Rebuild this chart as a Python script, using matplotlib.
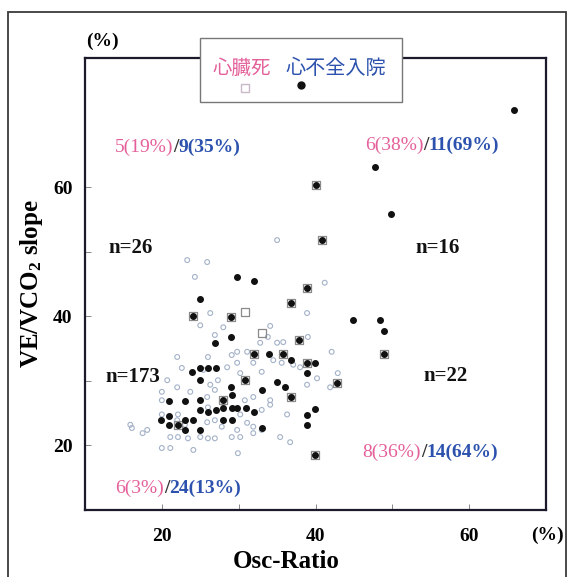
import matplotlib
matplotlib.use("Agg")
import matplotlib.pyplot as plt
from matplotlib.patches import Rectangle
from matplotlib.lines import Line2D

plt.rcParams['font.family'] = ['Liberation Serif', 'DejaVu Serif']
plt.rcParams['mathtext.fontset'] = 'custom'
plt.rcParams['mathtext.rm'] = 'Liberation Serif:bold'
plt.rcParams['mathtext.bf'] = 'Liberation Serif:bold'
plt.rcParams['mathtext.default'] = 'rm'

# ---------------- data ----------------
# heart-failure hospitalisation (filled dots)
hf_x = [65.8, 47.7, 49.8, 40.1, 40.8, 48.4, 48.9, 48.9, 44.9, 42.8, 39.9,
        29.8, 32.0, 38.9, 25.0, 36.8, 24.1, 29.0, 29.0, 26.9, 37.9, 32.0,
        33.9, 35.8, 36.8, 38.9, 39.9, 38.9, 35.0, 36.0, 33.0, 30.8, 29.0,
        36.8, 39.9, 38.9, 38.9, 23.9, 25.0, 26.0, 27.1, 25.0, 20.9, 23.0,
        25.0, 25.0, 26.0, 27.1, 28.0, 28.0, 29.1, 29.1, 29.8, 31.0, 32.0,
        20.9, 20.9, 22.1, 23.0, 24.1, 25.0, 23.0, 29.1, 33.0, 19.9, 28.0]
hf_y = [71.9, 63.1, 55.8, 60.3, 51.8, 39.4, 37.7, 34.2, 39.4, 29.7, 18.5,
        46.1, 45.5, 44.4, 42.7, 42.1, 40.0, 39.9, 36.8, 35.9, 36.3, 34.2,
        34.2, 34.2, 33.2, 32.8, 32.8, 31.2, 29.8, 29.0, 28.6, 30.1, 29.0,
        27.5, 25.6, 24.7, 23.2, 31.4, 32.0, 32.0, 32.0, 30.1, 26.9, 26.9,
        27.0, 25.5, 25.2, 25.5, 27.0, 25.8, 27.8, 25.8, 25.8, 25.8, 25.2,
        24.6, 23.2, 23.2, 23.9, 23.9, 22.4, 22.4, 23.9, 22.7, 23.9, 23.9]

# cardiac death (open squares)
cd_x = [40.1, 40.8, 48.9, 42.8, 39.9, 38.9, 36.8, 24.1, 29.0, 37.9,
        32.0, 35.8, 38.9, 30.8, 36.8, 28.0, 22.1, 30.8, 33.0]
cd_y = [60.3, 51.8, 34.2, 29.7, 18.5, 44.4, 42.1, 40.0, 39.9, 36.3,
        34.2, 34.2, 32.8, 30.1, 27.5, 27.0, 23.2, 40.6, 37.4]

# no event (small open circles)
ot_x = [35.0, 25.9, 23.3, 24.3, 41.2, 26.3, 25.0, 26.9, 28.0, 34.1, 33.8,
        32.8, 35.0, 35.8, 39.0, 42.1, 31.1, 29.8, 26.0, 22.0, 29.8, 31.9,
        33.0, 37.1, 38.0, 42.9, 30.2, 27.3, 26.3, 22.0, 20.0, 20.0, 23.7,
        25.9, 26.9, 30.8, 31.9, 34.1, 34.1, 22.1, 26.0, 30.2, 31.1, 33.0,
        20.0, 36.3, 22.0, 23.0, 25.9, 26.9, 27.8, 31.1, 31.9, 33.0, 29.8,
        16.1, 17.5, 21.1, 22.1, 23.4, 25.0, 26.0, 26.9, 29.1, 30.2, 31.9,
        35.4, 20.0, 21.1, 24.1, 29.9, 36.7, 40.2, 41.9, 38.9, 25.4, 22.6,
        20.7, 38.9, 34.5, 35.6, 29.1, 28.5, 18.1, 15.9]
ot_y = [51.8, 48.4, 48.7, 46.1, 45.2, 40.5, 38.6, 37.1, 38.3, 38.5, 36.8,
        35.9, 35.9, 36.0, 36.8, 34.5, 34.5, 34.5, 33.7, 33.7, 32.8, 32.8,
        31.4, 32.5, 32.1, 31.2, 31.2, 30.1, 29.4, 29.0, 28.3, 27.0, 28.3,
        27.5, 28.6, 27.0, 27.5, 27.0, 26.3, 24.8, 25.9, 24.8, 25.8, 25.5,
        24.8, 24.8, 23.9, 23.2, 23.6, 23.9, 22.9, 23.5, 22.9, 22.4, 22.4,
        22.7, 21.9, 21.3, 21.3, 21.1, 21.3, 21.1, 21.1, 21.3, 21.3, 21.9,
        21.3, 19.6, 19.6, 19.3, 18.8, 20.5, 30.4, 29.0, 29.4, 31.7, 32.0,
        30.1, 40.5, 33.2, 32.8, 34.0, 32.1, 22.4, 23.2]

x_ticks = [20, 40, 60]
y_ticks = [20, 40, 60]

# quadrant annotations: (left x, y, pink part, blue part)
quad_events = [(13.9, 66.2, "5(19%)", "9(35%)"),
               (46.4, 66.4, "6(38%)", "11(69%)"),
               (46.1, 19.0, "8(36%)", "14(64%)"),
               (13.9, 13.4, "6(3%)", "24(13%)")]
quad_n = [(13.0, 50.6, "n=26"), (53.0, 50.6, "n=16"),
          (12.6, 30.6, "n=173"), (54.0, 30.8, "n=22")]

PINK = '#E4609A'
BLUE = '#2C52AE'

# ---------------- figure ----------------
fig = plt.figure(figsize=(5.71, 5.77), dpi=100)
W, H = 571, 577
ax = fig.add_axes([85 / W, 1 - 510 / H, (546 - 85) / W, (510 - 58) / H])
ax.set_xlim(10, 70)
ax.set_ylim(10, 80)

ax.scatter(ot_x, ot_y, s=12, facecolors='none', edgecolors='#a4b2c8',
           linewidths=0.8, zorder=2)
ax.scatter(cd_x, cd_y, s=32, marker='s', facecolors='none',
           edgecolors='#8a8a8a', linewidths=0.9, zorder=3)
ax.scatter(hf_x, hf_y, s=16, color='#111111', zorder=4)

for s in ax.spines.values():
    s.set_linewidth(1.6)
    s.set_color('#1a1a2a')

ax.set_xticks(x_ticks)
ax.set_yticks(y_ticks)
ax.set_xticks([30, 50], minor=True)
ax.set_yticks([30, 50], minor=True)
ax.tick_params(which='both', direction='in', length=4, width=0.7,
               color='#888888')
ax.tick_params(axis='x', pad=13, labelsize=14)
ax.tick_params(axis='y', pad=9, labelsize=14)
for lab in ax.get_xticklabels() + ax.get_yticklabels():
    lab.set_fontweight('bold')

ax.set_ylabel(r"VE/VCO$_{2}$ slope", fontsize=18, fontweight='bold',
              labelpad=6)
fig.text(286 / W, 1 - 562 / H, "Osc-Ratio", fontsize=18, fontweight='bold',
         ha='center', va='center')

fig.text(102 / W, 1 - 41 / H, "(%)", fontsize=14, fontweight='bold',
         ha='center', va='center')
fig.text(547 / W, 1 - 535 / H, "(%)", fontsize=14, fontweight='bold',
         ha='center', va='center')

# quadrant labels
for x, y, p, b in quad_events:
    t1 = ax.text(x, y, p, color=PINK, fontsize=14, va='center')
    t2 = ax.annotate("/", xycoords=t1, xy=(1, 0), va='bottom',
                     color='#333333', fontsize=14, fontweight='bold')
    ax.annotate(b, xycoords=t2, xy=(1, 0), va='bottom', color=BLUE,
                fontsize=14, fontweight='bold')
for x, y, s in quad_n:
    ax.text(x, y, s, fontsize=15, fontweight='bold', va='center',
            color='#111111')

# legend box
lx0, lx1, ly0, ly1 = 200, 402, 38, 102
fig.patches.append(Rectangle((lx0 / W, 1 - ly1 / H), (lx1 - lx0) / W,
                             (ly1 - ly0) / H, transform=fig.transFigure,
                             facecolor='white', edgecolor='#777777',
                             linewidth=1.0, zorder=10))
fig.text(242 / W, 1 - 68 / H, "心臓死", color=PINK, fontsize=14,
         family=['Noto Sans CJK JP'], ha='center', va='center', zorder=11)
fig.text(336 / W, 1 - 68 / H, "心不全入院", color=BLUE, fontsize=14.5,
         family=['Noto Sans CJK JP'], ha='center', va='center', zorder=11)
fig.lines.append(Line2D([245 / W], [1 - 88 / H], marker='s', markersize=6,
                        markerfacecolor='none', markeredgecolor='#c8b8c8',
                        linestyle='none', transform=fig.transFigure,
                        zorder=11))
fig.lines.append(Line2D([301 / W], [1 - 85 / H], marker='o', markersize=5,
                        color='#111111', linestyle='none',
                        transform=fig.transFigure, zorder=11))

# outer frame of the figure
fig.patches.append(Rectangle((8 / W, -0.01), (566 - 8) / W, 1 - 12 / H + 0.01,
                             transform=fig.transFigure, facecolor='none',
                             edgecolor='#3a3a3a', linewidth=1.3, zorder=0))

fig.savefig("out.png", dpi=100)
